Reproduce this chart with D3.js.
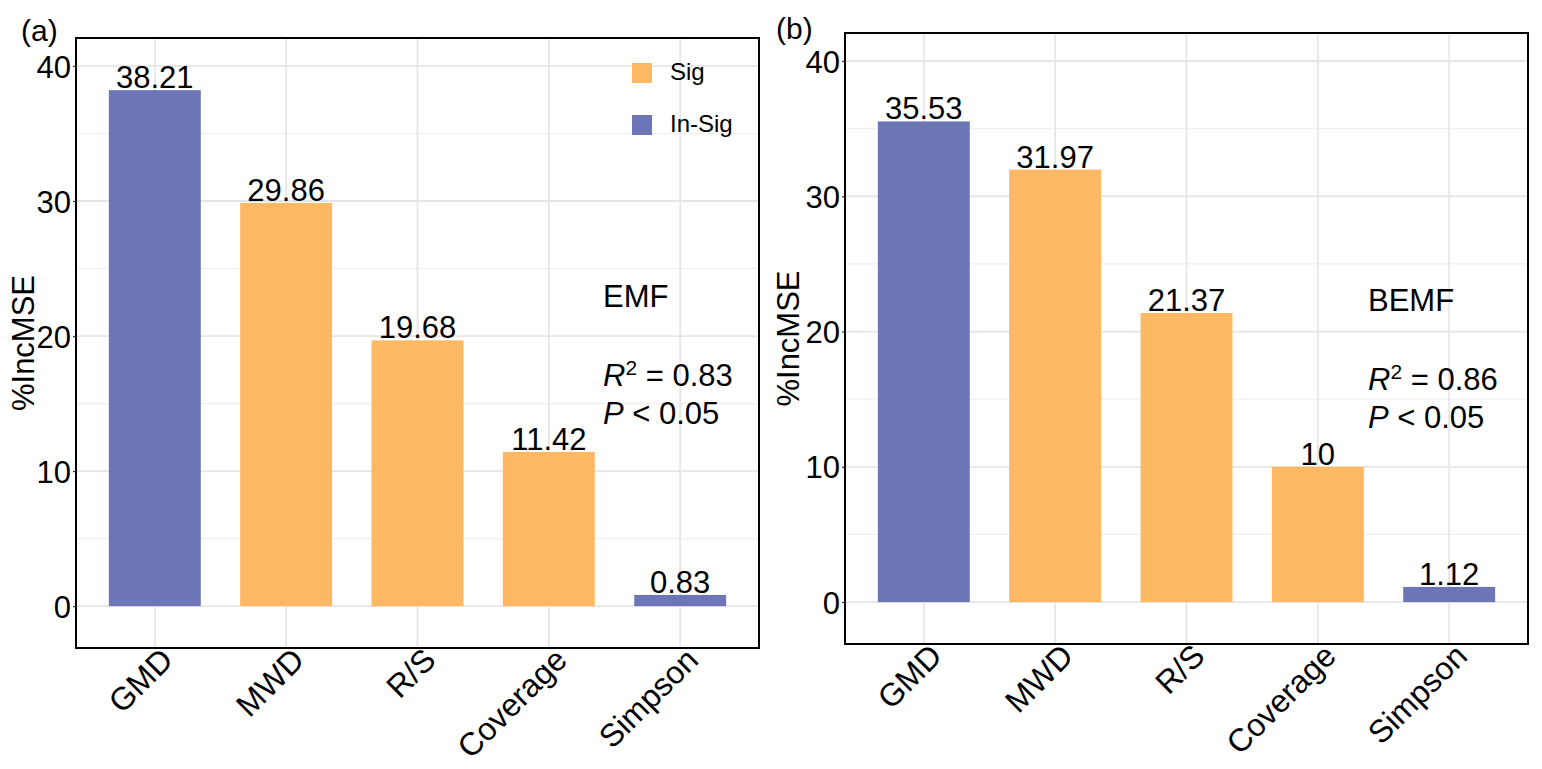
<!DOCTYPE html>
<html>
<head>
<meta charset="utf-8">
<script src="https://cdn.jsdelivr.net/npm/d3@7"></script>
<style>
  body { margin: 0; background: #fff; }
  svg text { font-family: "Liberation Sans", Arial, sans-serif; fill: #000; }
</style>
</head>
<body>
<svg id="chart" width="1542" height="769"></svg>
<script>
// data
const categories = ['GMD', 'MWD', 'R/S', 'Coverage', 'Simpson'];
const valuesA = [38.21, 29.86, 19.68, 11.42, 0.83];
const valuesB = [35.53, 31.97, 21.37, 10, 1.12];
const sigA = ['In-Sig', 'Sig', 'Sig', 'Sig', 'In-Sig'];
const sigB = ['In-Sig', 'Sig', 'Sig', 'Sig', 'In-Sig'];
const yTicks = [0, 10, 20, 30, 40];
const yMinor = [5, 15, 25, 35];
const legendKeys = ['Sig', 'In-Sig'];

const colors = { 'Sig': '#fdb863', 'In-Sig': '#6c76b6' };

const svg = d3.select('#chart');

function drawPanel(p) {
  const g = svg.append('g').attr('transform', `translate(${p.left},${p.top})`);
  const w = p.width, h = p.height;

  // ggplot-like discrete axis: 0.6 unit expansion each side, bar width 0.7
  const x = d3.scalePoint().domain(categories).range([0, w]).padding(0.6);
  const bw = 0.7 * x.step();
  const y = d3.scaleLinear().domain([-3.1, 42.07]).range([h, 0]);

  // grid
  g.selectAll('.minor').data(yMinor).join('line')
    .attr('x1', 0).attr('x2', w)
    .attr('y1', d => y(d)).attr('y2', d => y(d))
    .attr('stroke', '#efefef').attr('stroke-width', 1.2);
  g.selectAll('.major').data(yTicks).join('line')
    .attr('x1', 0).attr('x2', w)
    .attr('y1', d => y(d)).attr('y2', d => y(d))
    .attr('stroke', '#e6e6e6').attr('stroke-width', 1.8);
  g.selectAll('.vgrid').data(categories).join('line')
    .attr('x1', d => x(d)).attr('x2', d => x(d))
    .attr('y1', 0).attr('y2', h)
    .attr('stroke', '#e6e6e6').attr('stroke-width', 1.8);

  // bars
  g.selectAll('.bar').data(p.values).join('rect')
    .attr('x', (d, i) => x(categories[i]) - bw / 2)
    .attr('width', bw)
    .attr('y', d => y(d))
    .attr('height', d => y(0) - y(d))
    .attr('fill', (d, i) => colors[p.sig[i]]);

  // value labels
  g.selectAll('.val').data(p.values).join('text')
    .attr('x', (d, i) => x(categories[i]))
    .attr('y', d => y(d) - 2)
    .attr('text-anchor', 'middle')
    .attr('font-size', 31)
    .text(d => d);

  // border
  g.append('rect').attr('width', w).attr('height', h)
    .attr('fill', 'none').attr('stroke', '#000').attr('stroke-width', 2);

  // y axis
  const yAxis = g.append('g').call(d3.axisLeft(y).tickValues(yTicks).tickSize(3).tickPadding(2));
  yAxis.select('.domain').remove();
  yAxis.selectAll('.tick line').attr('stroke', '#333').attr('stroke-width', 1.2);
  yAxis.selectAll('.tick text').attr('font-size', 31).attr('font-family', '"Liberation Sans", Arial, sans-serif').attr('fill', '#000').attr('dy', '0.36em');

  // x axis labels, rotated 45 degrees
  g.selectAll('.xlab').data(categories).join('text')
    .attr('transform', d => `translate(${x(d) + 20},${h + 14}) rotate(-45)`)
    .attr('text-anchor', 'end')
    .attr('font-size', 32)
    .text(d => d);

  // y title
  g.append('text')
    .attr('transform', `translate(${p.ytitleX},${h / 2}) rotate(-90)`)
    .attr('text-anchor', 'middle')
    .attr('font-size', 31)
    .text('%IncMSE');

  // panel tag
  g.append('text').attr('x', p.tagX).attr('y', p.tagY)
    .attr('font-size', 30).text(p.tag);

  // annotation
  const ann = g.append('g').attr('transform', `translate(${p.annX},0)`);
  ann.append('text').attr('y', p.annY).attr('font-size', 31).text(p.label);
  const r2 = ann.append('text').attr('y', p.annY + 79).attr('font-size', 31);
  r2.append('tspan').attr('font-style', 'italic').text('R');
  r2.append('tspan').attr('font-size', 21).attr('dy', -11).text('2');
  r2.append('tspan').attr('dy', 11).text(' = ' + p.r2);
  const pl = ann.append('text').attr('y', p.annY + 117).attr('font-size', 31);
  pl.append('tspan').attr('font-style', 'italic').text('P');
  pl.append('tspan').text(' < 0.05');

  return g;
}

const gA = drawPanel({
  left: 76, top: 38, width: 683, height: 610,
  values: valuesA, sig: sigA, tag: '(a)', tagX: -55, tagY: 3,
  ytitleX: -42, label: 'EMF', r2: '0.83', annX: 527, annY: 269
});

drawPanel({
  left: 845, top: 33, width: 683, height: 611,
  values: valuesB, sig: sigB, tag: '(b)', tagX: -69, tagY: 6,
  ytitleX: -46, label: 'BEMF', r2: '0.86', annX: 523, annY: 278
});

// legend (panel a)
const leg = gA.append('g').attr('transform', 'translate(556,25)');
leg.selectAll('rect').data(legendKeys).join('rect')
  .attr('x', 0).attr('y', (d, i) => i * 52)
  .attr('width', 20).attr('height', 20)
  .attr('fill', d => colors[d]);
leg.selectAll('text').data(legendKeys).join('text')
  .attr('x', 38).attr('y', (d, i) => i * 52 + 17)
  .attr('font-size', 24)
  .text(d => d);
</script>
</body>
</html>
